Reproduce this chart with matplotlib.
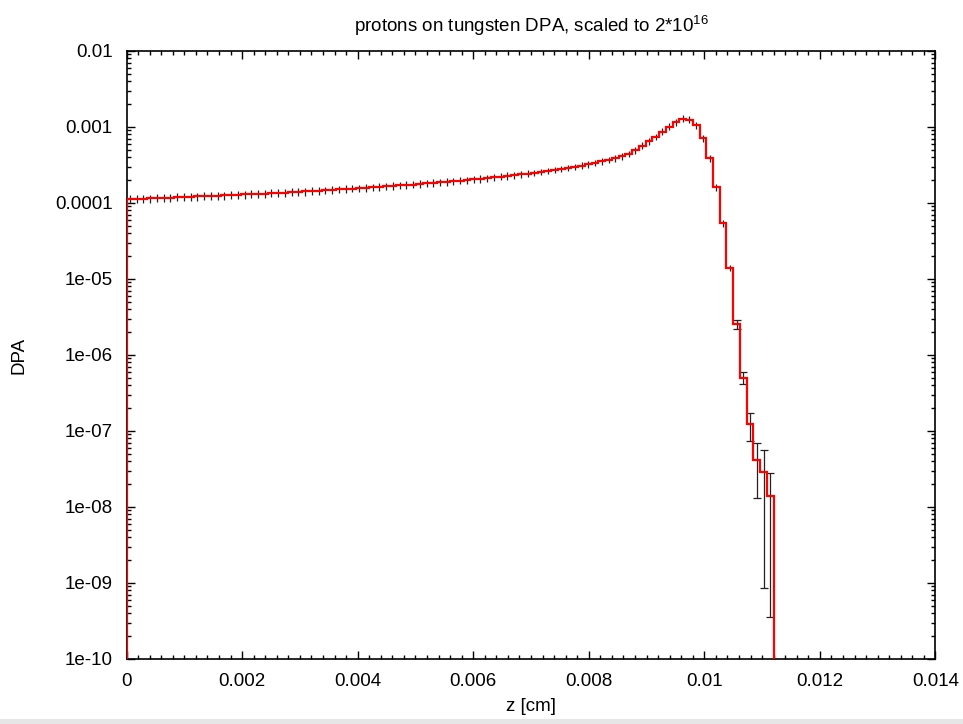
#!/usr/bin/env python3
"""Proton DPA depth profile in tungsten, gnuplot-like look."""

import matplotlib

matplotlib.use("Agg")
import matplotlib.pyplot as plt
import numpy as np
from matplotlib.patches import Rectangle
from matplotlib.ticker import FixedLocator, FixedFormatter, LogLocator, NullFormatter

# histogram: 120 bins over 0..0.014 cm, only the first 96 are non-zero
Z_MAX = 0.014
N_BINS = 120

# DPA per bin (units of 1e-4)
dpa_e4 = [
    1.12, 1.13, 1.14, 1.15, 1.16, 1.17, 1.18, 1.19, 1.20, 1.21,
    1.22, 1.23, 1.24, 1.25, 1.26, 1.27, 1.28, 1.30, 1.31, 1.32,
    1.33, 1.35, 1.36, 1.37, 1.39, 1.40, 1.42, 1.43, 1.45, 1.47,
    1.49, 1.51, 1.53, 1.55, 1.57, 1.59, 1.61, 1.63, 1.65, 1.68,
    1.70, 1.73, 1.75, 1.78, 1.81, 1.84, 1.87, 1.90, 1.93, 1.97,
    2.00, 2.04, 2.08, 2.12, 2.17, 2.22, 2.27, 2.32, 2.38, 2.44,
    2.50, 2.57, 2.64, 2.72, 2.81, 2.90, 3.00, 3.11, 3.23, 3.37,
    3.52, 3.68, 3.88, 4.12, 4.45, 4.95, 5.70, 6.50, 7.40, 8.70,
    10.1, 11.5, 12.9, 12.5, 10.6, 7.10, 3.87, 1.62, 0.54, 0.138,
    0.0256, 0.00504, 0.00122, 0.000415, 0.000286, 0.000141,
]

# relative statistical error per bin
rel_err = [
    0.12, 0.12, 0.12, 0.12, 0.12, 0.12, 0.12, 0.12, 0.12, 0.12,
    0.12, 0.12, 0.12, 0.12, 0.12, 0.12, 0.12, 0.12, 0.12, 0.12,
    0.12, 0.12, 0.12, 0.12, 0.12, 0.12, 0.12, 0.12, 0.12, 0.12,
    0.11, 0.11, 0.11, 0.11, 0.11, 0.11, 0.11, 0.11, 0.11, 0.11,
    0.11, 0.11, 0.11, 0.11, 0.11, 0.11, 0.11, 0.11, 0.11, 0.11,
    0.11, 0.11, 0.11, 0.11, 0.11, 0.11, 0.11, 0.11, 0.11, 0.11,
    0.10, 0.10, 0.10, 0.10, 0.10, 0.10, 0.10, 0.10, 0.10, 0.10,
    0.10, 0.10, 0.10, 0.10, 0.10, 0.10, 0.10, 0.10, 0.10, 0.10,
    0.10, 0.10, 0.10, 0.10, 0.10, 0.10, 0.10, 0.10, 0.10, 0.09,
    0.13, 0.18, 0.40, 0.68, 0.97, 0.975,
]

x_ticks = [0, 0.002, 0.004, 0.006, 0.008, 0.010, 0.012, 0.014]
x_labels = ["0", "0.002", "0.004", "0.006", "0.008", "0.01", "0.012", "0.014"]
y_ticks = [1e-10, 1e-9, 1e-8, 1e-7, 1e-6, 1e-5, 1e-4, 1e-3, 1e-2]
y_labels = ["1e-10", "1e-09", "1e-08", "1e-07", "1e-06", "1e-05", "0.0001", "0.001", "0.01"]

FONT = ["Liberation Sans Narrow", "Liberation Sans", "DejaVu Sans"]
plt.rcParams["font.family"] = FONT
plt.rcParams["mathtext.fontset"] = "custom"
plt.rcParams["mathtext.rm"] = "Liberation Sans"
plt.rcParams["mathtext.it"] = "Liberation Sans"
plt.rcParams["mathtext.bf"] = "Liberation Sans"

dpa = np.array(dpa_e4) * 1e-4
rel = np.array(rel_err)
err = dpa * rel
edges = np.linspace(0, Z_MAX, N_BINS + 1)[: len(dpa) + 1]
centers = 0.5 * (edges[:-1] + edges[1:])

fig = plt.figure(figsize=(9.63, 7.24), dpi=100)
# light grey screenshot strip along the bottom edge
fig.patches.append(Rectangle((0, 0), 1, 5 / 724, transform=fig.transFigure,
                             facecolor="#e6e6e6", edgecolor="none", zorder=-1))
ax = fig.add_axes([0.1314, 0.0898, 0.8400, 0.8398])

# tail bins carry capped error bars, the smooth part shows plain ticks
capped = rel > 0.125
ax.errorbar(centers[~capped], dpa[~capped], yerr=err[~capped], fmt="none", ecolor="#222222",
            elinewidth=0.9, capsize=0, zorder=2)
ax.errorbar(centers[capped], dpa[capped], yerr=err[capped], fmt="none", ecolor="#222222",
            elinewidth=0.9, capsize=3.2, capthick=0.9, zorder=2)
ax.stairs(dpa, edges, baseline=y_ticks[0], color="#ff0000", lw=1.6, zorder=3)

ax.set_yscale("log")
ax.set_xlim(x_ticks[0], x_ticks[-1])
ax.set_ylim(y_ticks[0], y_ticks[-1])

ax.xaxis.set_major_locator(FixedLocator(x_ticks))
ax.xaxis.set_major_formatter(FixedFormatter(x_labels))
ax.xaxis.set_minor_locator(FixedLocator(np.arange(0, Z_MAX + 1e-9, 0.0002)))
ax.yaxis.set_major_locator(FixedLocator(y_ticks))
ax.yaxis.set_major_formatter(FixedFormatter(y_labels))
ax.yaxis.set_minor_locator(LogLocator(base=10, subs=np.arange(2, 10), numticks=20))
ax.yaxis.set_minor_formatter(NullFormatter())

ax.tick_params(which="both", direction="in", top=True, right=True, width=1.0, labelsize=13.5)
ax.tick_params(which="major", length=6.0)
ax.tick_params(which="minor", length=3.0)
ax.tick_params(axis="y", pad=10)
ax.tick_params(axis="x", pad=10)
for spine in ax.spines.values():
    spine.set_linewidth(1.2)

ax.set_xlabel("z [cm]", fontsize=13.5, labelpad=6)
ax.set_ylabel("DPA", fontsize=13.5, labelpad=20)
ax.set_title("protons on tungsten DPA, scaled to 2*10$^{16}$", fontsize=13.5, pad=14)

fig.savefig("out.png", dpi=100)
